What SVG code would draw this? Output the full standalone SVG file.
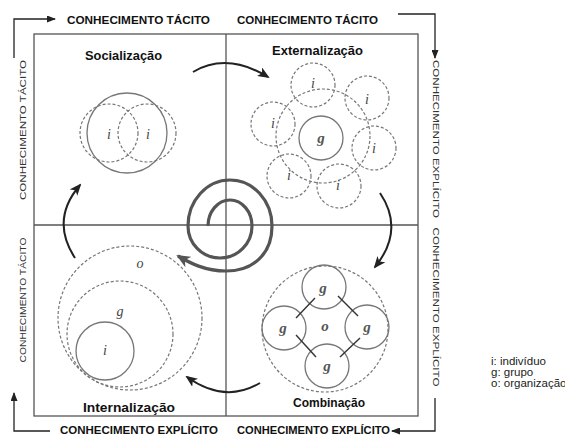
<svg xmlns="http://www.w3.org/2000/svg" width="565" height="436" viewBox="0 0 565 436">
<style>
.frame{fill:none;stroke:#555;stroke-width:1.3}
.solid{fill:none;stroke:#777;stroke-width:1.3}
.dash{fill:none;stroke:#777;stroke-width:1.2;stroke-dasharray:3 2}
.arc{fill:none;stroke:#222;stroke-width:2}
.side{fill:none;stroke:#222;stroke-width:1.3}
.hdr{font-family:"Liberation Sans",Arial,sans-serif;font-weight:bold;font-size:10.5px;fill:#111}
.vert{font-family:"Liberation Sans",Arial,sans-serif;font-size:9.5px;fill:#333}
.title{font-family:"Liberation Sans",Arial,sans-serif;font-weight:bold;font-size:12.5px;fill:#111}
.lbl{font-family:"Liberation Serif","Times New Roman",serif;font-style:italic;font-size:14px;fill:#444;text-anchor:middle}
.lblb{font-family:"Liberation Serif","Times New Roman",serif;font-style:italic;font-weight:bold;font-size:15px;fill:#555;text-anchor:middle}
.leg{font-family:"Liberation Sans",Arial,sans-serif;font-size:11.5px;fill:#222}
</style>
<defs>
<marker id="ah" markerWidth="12" markerHeight="10" refX="10" refY="5" orient="auto" markerUnits="userSpaceOnUse">
<path d="M0,0 L12,5 L0,10 L3,5 Z" fill="#222"/>
</marker>
<marker id="sh" markerWidth="9" markerHeight="7" refX="8" refY="3.5" orient="auto" markerUnits="userSpaceOnUse">
<path d="M0,0 L9,3.5 L0,7 Z" fill="#222"/>
</marker>
<marker id="spah" markerWidth="14" markerHeight="12" refX="12" refY="6" orient="auto" markerUnits="userSpaceOnUse">
<path d="M0,0 L14,6 L0,12 L4,6 Z" fill="#555"/>
</marker>
</defs>

<g id="frame">
<rect class="frame" x="34" y="34" width="384" height="382"/>
<line class="frame" x1="226" y1="34" x2="226" y2="416" stroke-width="1"/>
<line class="frame" x1="34" y1="225" x2="418" y2="225" stroke-width="1"/>
</g>

<g id="connectors">
<path class="side" d="M14,58 L14,19 L55,19" marker-end="url(#sh)"/>
<path class="side" d="M398,14 L435,14 L435,58" marker-end="url(#sh)"/>
<path class="side" d="M435,398 L435,431 L392,431" marker-end="url(#sh)"/>
<path class="side" d="M50,431 L14,431 L14,393" marker-end="url(#sh)"/>
<path class="arc" d="M193,72 Q227,52 268,77" marker-end="url(#ah)"/>
<path class="arc" d="M380,193 Q405,230 375,267" marker-end="url(#ah)"/>
<path class="arc" d="M260,383 Q225,404 187,377" marker-end="url(#ah)"/>
<path class="arc" d="M75,258 Q50,220 80,185" marker-end="url(#ah)"/>
</g>

<g id="spiral">
<path d="M208,226 A22 26 0 0 1 252,226 A32 32 0 0 1 188,226 A42 46 0 0 1 272,226 C272,255 252,271 226,271 C205,271 190,263 178,256" fill="none" stroke="#555" stroke-width="3.2" marker-end="url(#spah)"/>
</g>

<g id="labels-top">
<text class="hdr" x="67" y="24" textLength="143" lengthAdjust="spacingAndGlyphs">CONHECIMENTO TÁCITO</text>
<text class="hdr" x="237" y="24" textLength="141" lengthAdjust="spacingAndGlyphs">CONHECIMENTO TÁCITO</text>
<text class="hdr" x="60" y="433.5" textLength="158" lengthAdjust="spacingAndGlyphs">CONHECIMENTO EXPLÍCITO</text>
<text class="hdr" x="237" y="433.5" textLength="153" lengthAdjust="spacingAndGlyphs">CONHECIMENTO EXPLÍCITO</text>
</g>

<g id="labels-side">
<text class="vert" transform="translate(26,130) rotate(-90)" text-anchor="middle" textLength="140" lengthAdjust="spacingAndGlyphs">CONHECIMENTO TÁCITO</text>
<text class="vert" transform="translate(26,300) rotate(-90)" text-anchor="middle" textLength="125" lengthAdjust="spacingAndGlyphs">CONHECIMENTO TÁCITO</text>
<text class="vert" transform="translate(433,139) rotate(90)" text-anchor="middle" textLength="158" lengthAdjust="spacingAndGlyphs">CONHECIMENTO EXPLÍCITO</text>
<text class="vert" transform="translate(433,307) rotate(90)" text-anchor="middle" textLength="159" lengthAdjust="spacingAndGlyphs">CONHECIMENTO EXPLÍCITO</text>
</g>

<g id="socializacao">
<text class="title" x="85" y="60" textLength="77" lengthAdjust="spacingAndGlyphs">Socialização</text>
<circle class="solid" cx="127" cy="133" r="40"/>
<circle class="dash" cx="109" cy="133" r="29"/>
<circle class="dash" cx="147" cy="133" r="29"/>
<text class="lbl" x="109" y="139">i</text>
<text class="lbl" x="148" y="139">i</text>
</g>

<g id="externalizacao">
<text class="title" x="272" y="55" textLength="91" lengthAdjust="spacingAndGlyphs">Externalização</text>
<circle class="dash" cx="323" cy="136" r="47"/>
<circle class="solid" cx="321" cy="138" r="22"/>
<text class="lblb" x="321" y="143">g</text>
<circle class="dash" cx="313" cy="85" r="22"/>
<circle class="dash" cx="367" cy="98" r="22"/>
<circle class="dash" cx="273" cy="124" r="22"/>
<circle class="dash" cx="374" cy="148" r="22"/>
<circle class="dash" cx="289" cy="176" r="22"/>
<circle class="dash" cx="339" cy="186" r="22"/>
<text class="lbl" x="313" y="88">i</text>
<text class="lbl" x="367" y="104">i</text>
<text class="lbl" x="273" y="128">i</text>
<text class="lbl" x="374" y="153">i</text>
<text class="lbl" x="289" y="180">i</text>
<text class="lbl" x="338" y="190">i</text>
</g>

<g id="internalizacao">
<text class="title" x="83" y="412" textLength="92" lengthAdjust="spacingAndGlyphs">Internalização</text>
<circle class="dash" cx="130" cy="318" r="72"/>
<circle class="dash" cx="120" cy="334" r="53"/>
<circle class="solid" cx="105" cy="351" r="29"/>
<text class="lbl" x="140" y="268">o</text>
<text class="lbl" x="120" y="316">g</text>
<text class="lbl" x="105" y="355">i</text>
</g>

<g id="combinacao">
<text class="title" x="293" y="407" textLength="72" lengthAdjust="spacingAndGlyphs">Combinação</text>
<circle class="dash" cx="325" cy="329" r="63"/>
<circle class="solid" cx="324" cy="287" r="22"/>
<circle class="solid" cx="284" cy="328" r="22"/>
<circle class="solid" cx="367" cy="327" r="22"/>
<circle class="solid" cx="327" cy="366" r="22"/>
<line x1="315" y1="298" x2="296" y2="318" stroke="#333" stroke-width="1.4"/>
<line x1="338" y1="296" x2="358" y2="316" stroke="#333" stroke-width="1.4"/>
<line x1="296" y1="335" x2="316" y2="357" stroke="#333" stroke-width="1.4"/>
<line x1="360" y1="338" x2="340" y2="357" stroke="#333" stroke-width="1.4"/>
<text class="lblb" x="323" y="293">g</text>
<text class="lblb" x="283" y="333">g</text>
<text class="lblb" x="367" y="332">g</text>
<text class="lblb" x="327" y="371">g</text>
<text class="lblb" x="325" y="331">o</text>
</g>

<g id="legend">
<text class="leg" x="491" y="365">i: indivíduo</text>
<text class="leg" x="491" y="376">g: grupo</text>
<text class="leg" x="491" y="387">o: organização</text>
</g>
</svg>
